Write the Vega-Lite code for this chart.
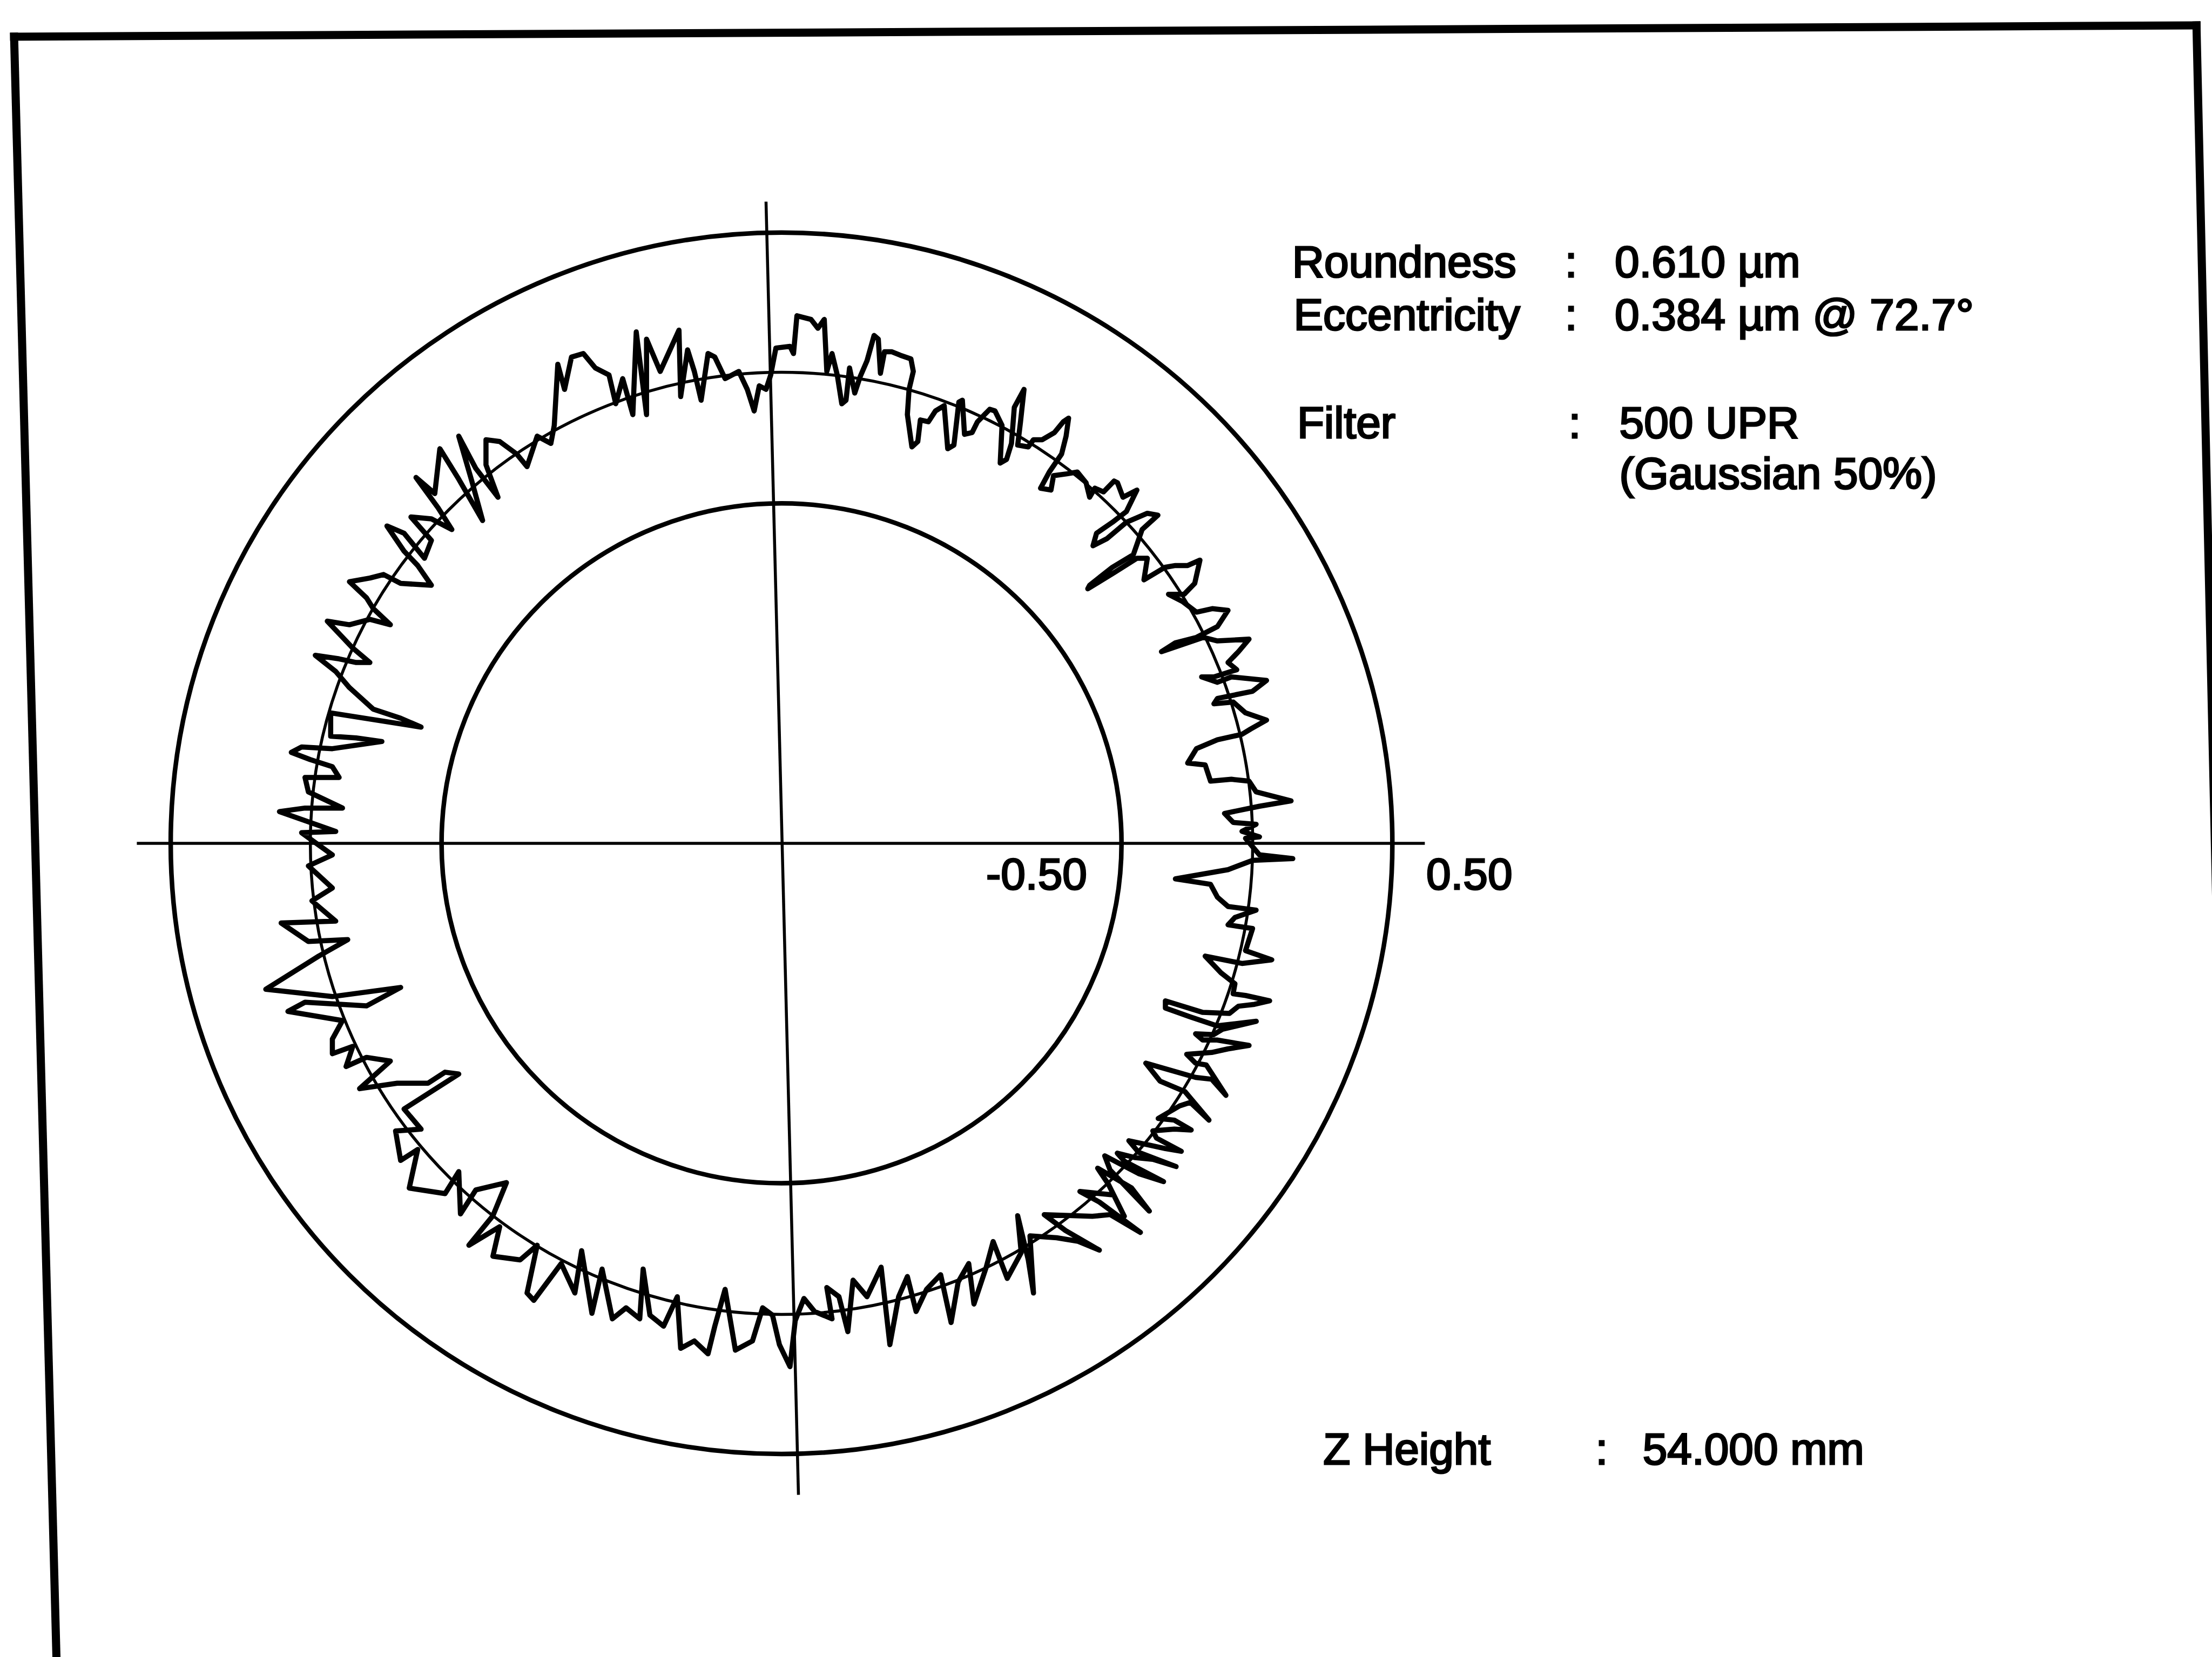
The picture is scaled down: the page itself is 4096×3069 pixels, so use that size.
{
  "$schema": "https://vega.github.io/schema/vega-lite/v6.json",
  "width": 4096,
  "height": 3069,
  "autosize": {"type": "fit", "contains": "padding"},
  "padding": 0,
  "background": "#ffffff",
  "config": {"view": {"stroke": null}},
  "datasets": {
    "frame": [
      {"x": -544, "y": 572, "x2": 1003, "y2": 580},
      {"x": -544, "y": 572, "x2": -514, "y2": -577},
      {"x": 1003, "y": 580, "x2": 1029, "y2": -577}
    ],
    "crosshair": [
      {"x": -457, "y": 0, "x2": 456, "y2": 0},
      {"x": -11, "y": 455, "x2": 12, "y2": -462}
    ],
    "grid": [
      {"x": 0, "y": 0, "r": 241, "level": "-0.50"},
      {"x": 0, "y": 0, "r": 433, "level": "0.50"}
    ],
    "reference": [
      {"x": 0, "y": 0, "r": 334}
    ],
    "labels": [
      {"x": 362, "y": 401.6, "text": "Roundness"},
      {"x": 555.3, "y": 401.6, "text": ":"},
      {"x": 590.6, "y": 401.6, "text": "0.610 µm"},
      {"x": 363, "y": 363.9, "text": "Eccentricity"},
      {"x": 555.3, "y": 363.9, "text": ":"},
      {"x": 590.6, "y": 363.9, "text": "0.384 µm @ 72.7°"},
      {"x": 365.5, "y": 287.5, "text": "Filter"},
      {"x": 557.9, "y": 287.5, "text": ":"},
      {"x": 593.9, "y": 287.5, "text": "500 UPR"},
      {"x": 593.9, "y": 251.7, "text": "(Gaussian 50%)"},
      {"x": 145, "y": -32.6, "text": "-0.50"},
      {"x": 457, "y": -32.6, "text": "0.50"},
      {"x": 384, "y": -440.3, "text": "Z Height"},
      {"x": 577, "y": -440.3, "text": ":"},
      {"x": 610.4, "y": -440.3, "text": "54.000 mm"}
    ],
    "profile": [
      {"i":0,"x":-7.7,"y":332.0},{"i":1,"x":-4.0,"y":351.2},{"i":2,"x":6.0,"y":352.4},{"i":3,"x":8.5,"y":347.3},{"i":4,"x":10.9,"y":374.1},{"i":5,"x":20.9,"y":371.5},{"i":6,"x":25.8,"y":365.2},{"i":7,"x":30.3,"y":371.5},{"i":8,"x":32.1,"y":334.6},{"i":9,"x":35.8,"y":347.3},
      {"i":10,"x":39.5,"y":332.1},{"i":11,"x":42.7,"y":311.7},{"i":12,"x":45.7,"y":314.2},{"i":13,"x":48.2,"y":337.1},{"i":14,"x":51.9,"y":319.3},{"i":15,"x":55.7,"y":330.8},{"i":16,"x":60.6,"y":342.2},{"i":17,"x":65.6,"y":360.1},{"i":18,"x":68.6,"y":357.5},{"i":19,"x":70.1,"y":333.3},
      {"i":20,"x":73.0,"y":348.6},{"i":21,"x":78.0,"y":348.6},{"i":22,"x":84.2,"y":346.1},{"i":23,"x":91.7,"y":343.5},{"i":24,"x":93.4,"y":334.6},{"i":25,"x":90.4,"y":321.9},{"i":26,"x":89.2,"y":304.0},{"i":27,"x":92.4,"y":281.1},{"i":28,"x":96.6,"y":284.9},{"i":29,"x":98.4,"y":300.2},
      {"i":30,"x":104.1,"y":298.9},{"i":31,"x":109.1,"y":306.6},{"i":32,"x":115.3,"y":310.4},{"i":33,"x":117.8,"y":279.8},{"i":34,"x":122.2,"y":282.4},{"i":35,"x":125.7,"y":312.9},{"i":36,"x":128.2,"y":314.2},{"i":37,"x":129.7,"y":290.0},{"i":38,"x":135.1,"y":291.3},{"i":39,"x":138.9,"y":298.9},
      {"i":40,"x":147.6,"y":307.8},{"i":41,"x":151.3,"y":306.6},{"i":42,"x":156.3,"y":296.4},{"i":43,"x":155.0,"y":269.6},{"i":44,"x":159.5,"y":272.2},{"i":45,"x":163.0,"y":283.6},{"i":46,"x":165.0,"y":309.1},{"i":47,"x":171.9,"y":321.9},{"i":48,"x":169.4,"y":298.9},{"i":49,"x":167.4,"y":282.4},
      {"i":50,"x":174.9,"y":281.1},{"i":51,"x":178.6,"y":286.2},{"i":52,"x":184.8,"y":286.2},{"i":53,"x":193.5,"y":291.3},{"i":54,"x":199.7,"y":298.9},{"i":55,"x":203.5,"y":301.5},{"i":56,"x":201.7,"y":288.7},{"i":57,"x":198.5,"y":276.0},{"i":58,"x":189.8,"y":263.3},{"i":59,"x":183.6,"y":251.8},
      {"i":60,"x":191.0,"y":250.5},{"i":61,"x":192.8,"y":260.7},{"i":62,"x":202.2,"y":262.0},{"i":63,"x":209.7,"y":263.3},{"i":64,"x":215.9,"y":255.6},{"i":65,"x":218.4,"y":245.4},{"i":66,"x":222.1,"y":251.8},{"i":67,"x":228.3,"y":249.2},{"i":68,"x":235.7,"y":256.9},{"i":69,"x":238.2,"y":255.6},
      {"i":70,"x":242.0,"y":245.4},{"i":71,"x":251.9,"y":250.5},{"i":72,"x":244.4,"y":235.2},{"i":73,"x":234.5,"y":227.6},{"i":74,"x":223.3,"y":219.9},{"i":75,"x":220.8,"y":211.0},{"i":76,"x":230.8,"y":216.1},{"i":77,"x":244.4,"y":227.6},{"i":78,"x":259.3,"y":234.0},{"i":79,"x":266.8,"y":232.7},
      {"i":80,"x":255.6,"y":222.5},{"i":81,"x":249.4,"y":204.7},{"i":82,"x":234.5,"y":195.7},{"i":83,"x":218.4,"y":183.0},{"i":84,"x":217.1,"y":180.5},{"i":85,"x":235.7,"y":191.9},{"i":86,"x":251.9,"y":202.1},{"i":87,"x":259.3,"y":202.1},{"i":88,"x":256.9,"y":186.8},{"i":89,"x":271.8,"y":195.7},
      {"i":90,"x":279.2,"y":197.0},{"i":91,"x":287.9,"y":197.0},{"i":92,"x":296.6,"y":200.8},{"i":93,"x":292.9,"y":184.3},{"i":94,"x":285.4,"y":176.6},{"i":95,"x":274.3,"y":176.6},{"i":96,"x":284.2,"y":171.5},{"i":97,"x":294.1,"y":163.9},{"i":98,"x":305.3,"y":166.4},{"i":99,"x":316.5,"y":165.2},
      {"i":100,"x":309.0,"y":153.7},{"i":101,"x":294.1,"y":146.0},{"i":102,"x":279.2,"y":142.2},{"i":103,"x":269.3,"y":135.9},{"i":104,"x":284.2,"y":141.0},{"i":105,"x":299.1,"y":146.0},{"i":106,"x":309.0,"y":143.5},{"i":107,"x":331.4,"y":144.8},{"i":108,"x":323.9,"y":135.9},{"i":109,"x":316.5,"y":128.2},
      {"i":110,"x":322.7,"y":123.1},{"i":111,"x":306.5,"y":118.0},{"i":112,"x":297.8,"y":118.0},{"i":113,"x":309.0,"y":114.2},{"i":114,"x":318.9,"y":118.0},{"i":115,"x":343.8,"y":115.5},{"i":116,"x":333.9,"y":107.8},{"i":117,"x":309.0,"y":102.7},{"i":118,"x":306.5,"y":98.9},{"i":119,"x":320.2,"y":100.2},
      {"i":120,"x":328.9,"y":92.5},{"i":121,"x":343.8,"y":87.4},{"i":122,"x":332.6,"y":81.1},{"i":123,"x":326.4,"y":77.3},{"i":124,"x":309.0,"y":73.4},{"i":125,"x":294.1,"y":67.1},{"i":126,"x":287.9,"y":56.9},{"i":127,"x":300.3,"y":55.6},{"i":128,"x":304.1,"y":44.1},{"i":129,"x":318.9,"y":45.4},
      {"i":130,"x":331.4,"y":44.1},{"i":131,"x":336.4,"y":36.5},{"i":132,"x":361.2,"y":30.1},{"i":133,"x":338.8,"y":26.3},{"i":134,"x":314.0,"y":21.2},{"i":135,"x":320.2,"y":14.8},{"i":136,"x":336.4,"y":13.5},{"i":137,"x":326.4,"y":8.5},{"i":138,"x":338.8,"y":4.6},{"i":139,"x":328.9,"y":3.5},
      {"i":140,"x":338.8,"y":-8.2},{"i":141,"x":362.4,"y":-10.8},{"i":142,"x":333.9,"y":-12.1},{"i":143,"x":316.5,"y":-18.7},{"i":144,"x":279.2,"y":-25.2},{"i":145,"x":304.1,"y":-29.1},{"i":146,"x":309.0,"y":-38.2},{"i":147,"x":316.5,"y":-44.8},{"i":148,"x":336.4,"y":-47.4},{"i":149,"x":321.4,"y":-52.6},
      {"i":150,"x":316.5,"y":-57.8},{"i":151,"x":333.9,"y":-60.4},{"i":152,"x":328.9,"y":-76.1},{"i":153,"x":347.5,"y":-82.6},{"i":154,"x":326.4,"y":-85.2},{"i":155,"x":300.3,"y":-80.0},{"i":156,"x":311.5,"y":-91.8},{"i":157,"x":321.4,"y":-99.6},{"i":158,"x":320.1,"y":-106.7},{"i":159,"x":328.9,"y":-107.9},
      {"i":160,"x":346.0,"y":-111.7},{"i":161,"x":335.2,"y":-114.2},{"i":162,"x":323.9,"y":-115.5},{"i":163,"x":317.5,"y":-120.6},{"i":164,"x":298.6,"y":-119.9},{"i":165,"x":272.1,"y":-111.7},{"i":166,"x":272.1,"y":-116.8},{"i":167,"x":289.8,"y":-123.1},{"i":168,"x":308.7,"y":-129.4},{"i":169,"x":336.5,"y":-126.2},
      {"i":170,"x":312.5,"y":-131.9},{"i":171,"x":306.2,"y":-135.7},{"i":172,"x":293.5,"y":-135.1},{"i":173,"x":298.6,"y":-139.5},{"i":174,"x":308.7,"y":-139.5},{"i":175,"x":331.4,"y":-143.3},{"i":176,"x":316.3,"y":-145.8},{"i":177,"x":304.9,"y":-148.3},{"i":178,"x":287.2,"y":-149.6},{"i":179,"x":293.5,"y":-155.9},
      {"i":180,"x":301.1,"y":-157.2},{"i":181,"x":315.0,"y":-178.7},{"i":182,"x":304.9,"y":-167.3},{"i":183,"x":293.5,"y":-166.0},{"i":184,"x":258.2,"y":-155.9},{"i":185,"x":268.3,"y":-168.6},{"i":186,"x":286.0,"y":-176.1},{"i":187,"x":303.0,"y":-196.3},{"i":188,"x":289.8,"y":-183.7},{"i":189,"x":282.2,"y":-186.2},
      {"i":190,"x":267.0,"y":-195.1},{"i":191,"x":278.4,"y":-196.3},{"i":192,"x":290.4,"y":-203.3},{"i":193,"x":278.4,"y":-202.7},{"i":194,"x":263.2,"y":-203.9},{"i":195,"x":265.8,"y":-209.0},{"i":196,"x":283.4,"y":-218.4},{"i":197,"x":272.1,"y":-216.5},{"i":198,"x":260.7,"y":-214.0},{"i":199,"x":246.2,"y":-210.9},
      {"i":200,"x":253.1,"y":-219.1},{"i":201,"x":279.7,"y":-229.2},{"i":202,"x":263.2,"y":-224.1},{"i":203,"x":250.6,"y":-222.9},{"i":204,"x":238.0,"y":-219.7},{"i":205,"x":243.0,"y":-225.4},{"i":206,"x":270.8,"y":-239.9},{"i":207,"x":253.1,"y":-234.2},{"i":208,"x":229.1,"y":-221.6},{"i":209,"x":232.9,"y":-231.7},
      {"i":210,"x":260.7,"y":-260.8},{"i":211,"x":248.1,"y":-244.3},{"i":212,"x":224.1,"y":-230.4},{"i":213,"x":231.7,"y":-241.8},{"i":214,"x":243.0,"y":-264.5},{"i":215,"x":235.5,"y":-249.4},{"i":216,"x":211.5,"y":-246.9},{"i":217,"x":225.3,"y":-254.4},{"i":218,"x":254.4,"y":-275.9},{"i":219,"x":233.0,"y":-263.3},
      {"i":220,"x":220.3,"y":-264.5},{"i":221,"x":186.2,"y":-263.3},{"i":222,"x":201.3,"y":-274.6},{"i":223,"x":225.3,"y":-288.5},{"i":224,"x":210.2,"y":-282.2},{"i":225,"x":195.0,"y":-279.7},{"i":226,"x":176.1,"y":-278.4},{"i":227,"x":178.6,"y":-318.9},{"i":228,"x":174.9,"y":-295.4},{"i":229,"x":167.4,"y":-264.1},
      {"i":230,"x":169.9,"y":-290.2},{"i":231,"x":160.0,"y":-308.5},{"i":232,"x":150.0,"y":-282.4},{"i":233,"x":145.1,"y":-300.6},{"i":234,"x":136.4,"y":-326.7},{"i":235,"x":132.7,"y":-298.0},{"i":236,"x":125.2,"y":-311.1},{"i":237,"x":120.2,"y":-339.8},{"i":238,"x":112.8,"y":-305.9},{"i":239,"x":102.8,"y":-316.3},
      {"i":240,"x":95.4,"y":-332.0},{"i":241,"x":89.2,"y":-307.2},{"i":242,"x":83.0,"y":-321.5},{"i":243,"x":76.8,"y":-355.5},{"i":244,"x":70.6,"y":-300.6},{"i":245,"x":60.6,"y":-321.5},{"i":246,"x":50.7,"y":-309.8},{"i":247,"x":47.0,"y":-346.3},{"i":248,"x":40.7,"y":-321.5},{"i":249,"x":32.1,"y":-315.0},
      {"i":250,"x":35.8,"y":-337.2},{"i":251,"x":23.4,"y":-332.0},{"i":252,"x":15.9,"y":-322.8},{"i":253,"x":9.7,"y":-338.5},{"i":254,"x":6.0,"y":-371.1},{"i":255,"x":-1.5,"y":-355.5},{"i":256,"x":-6.4,"y":-334.6},{"i":257,"x":-13.4,"y":-329.4},{"i":258,"x":-20.6,"y":-352.9},{"i":259,"x":-32.7,"y":-359.4},
      {"i":260,"x":-40.0,"y":-316.3},{"i":261,"x":-47.3,"y":-342.4},{"i":262,"x":-52.1,"y":-362.0},{"i":263,"x":-61.8,"y":-352.9},{"i":264,"x":-71.5,"y":-358.1},{"i":265,"x":-73.9,"y":-321.5},{"i":266,"x":-83.6,"y":-342.4},{"i":267,"x":-93.3,"y":-334.6},{"i":268,"x":-98.1,"y":-301.9},{"i":269,"x":-100.5,"y":-337.2},
      {"i":270,"x":-110.2,"y":-329.4},{"i":271,"x":-119.9,"y":-337.2},{"i":272,"x":-127.2,"y":-301.9},{"i":273,"x":-134.4,"y":-333.3},{"i":274,"x":-141.7,"y":-288.9},{"i":275,"x":-146.5,"y":-318.9},{"i":276,"x":-156.2,"y":-298.0},{"i":277,"x":-175.6,"y":-324.1},{"i":278,"x":-180.4,"y":-318.9},{"i":279,"x":-173.2,"y":-285.0},
      {"i":280,"x":-185.3,"y":-295.4},{"i":281,"x":-204.6,"y":-292.8},{"i":282,"x":-199.8,"y":-271.9},{"i":283,"x":-221.6,"y":-285.0},{"i":284,"x":-204.6,"y":-264.1},{"i":285,"x":-195.0,"y":-240.6},{"i":286,"x":-216.7,"y":-245.8},{"i":287,"x":-227.6,"y":-262.8},{"i":288,"x":-228.8,"y":-232.8},{"i":289,"x":-238.5,"y":-248.4},
      {"i":290,"x":-263.9,"y":-244.5},{"i":291,"x":-257.9,"y":-217.1},{"i":292,"x":-270.0,"y":-224.9},{"i":293,"x":-273.6,"y":-204.0},{"i":294,"x":-255.5,"y":-202.7},{"i":295,"x":-267.6,"y":-188.4},{"i":296,"x":-228.8,"y":-163.6},{"i":297,"x":-238.5,"y":-162.3},{"i":298,"x":-250.6,"y":-170.1},{"i":299,"x":-272.4,"y":-170.1},
      {"i":300,"x":-299.1,"y":-174.0},{"i":301,"x":-277.3,"y":-154.4},{"i":302,"x":-294.2,"y":-151.8},{"i":303,"x":-308.7,"y":-158.3},{"i":304,"x":-303.9,"y":-144.0},{"i":305,"x":-318.4,"y":-149.2},{"i":306,"x":-318.4,"y":-138.8},{"i":307,"x":-311.2,"y":-125.7},{"i":308,"x":-349.9,"y":-119.2},{"i":309,"x":-337.8,"y":-112.7},
      {"i":310,"x":-294.2,"y":-115.3},{"i":311,"x":-270.0,"y":-102.2},{"i":312,"x":-318.4,"y":-108.7},{"i":313,"x":-365.6,"y":-103.5},{"i":314,"x":-328.1,"y":-80.0},{"i":315,"x":-307.5,"y":-68.3},{"i":316,"x":-335.4,"y":-69.6},{"i":317,"x":-354.7,"y":-56.5},{"i":318,"x":-316.0,"y":-55.2},{"i":319,"x":-332.9,"y":-40.8},
      {"i":320,"x":-318.4,"y":-31.7},{"i":321,"x":-335.4,"y":-16.0},{"i":322,"x":-318.4,"y":-8.2},{"i":323,"x":-340.2,"y":7.5},{"i":324,"x":-316.0,"y":8.4},{"i":325,"x":-355.9,"y":22.5},{"i":326,"x":-337.8,"y":25.0},{"i":327,"x":-311.2,"y":25.0},{"i":328,"x":-335.4,"y":36.5},{"i":329,"x":-337.8,"y":46.7},
      {"i":330,"x":-313.6,"y":46.7},{"i":331,"x":-318.4,"y":54.3},{"i":332,"x":-334.2,"y":59.4},{"i":333,"x":-347.5,"y":64.5},{"i":334,"x":-340.2,"y":68.3},{"i":335,"x":-318.4,"y":67.1},{"i":336,"x":-283.3,"y":72.2},{"i":337,"x":-301.5,"y":74.7},{"i":338,"x":-319.6,"y":76.0},{"i":339,"x":-319.6,"y":92.5},
      {"i":340,"x":-255.5,"y":82.4},{"i":341,"x":-270.0,"y":88.7},{"i":342,"x":-289.4,"y":95.1},{"i":343,"x":-306.3,"y":110.4},{"i":344,"x":-316.0,"y":121.8},{"i":345,"x":-330.5,"y":133.3},{"i":346,"x":-313.6,"y":130.8},{"i":347,"x":-301.5,"y":128.2},{"i":348,"x":-291.8,"y":128.2},{"i":349,"x":-303.9,"y":138.4},
      {"i":350,"x":-311.2,"y":146.1},{"i":351,"x":-322.0,"y":157.5},{"i":352,"x":-306.3,"y":155.0},{"i":353,"x":-291.8,"y":158.8},{"i":354,"x":-277.3,"y":155.0},{"i":355,"x":-289.4,"y":166.4},{"i":356,"x":-294.2,"y":174.1},{"i":357,"x":-306.3,"y":185.5},{"i":358,"x":-291.8,"y":188.1},{"i":359,"x":-282.1,"y":190.6},
      {"i":360,"x":-270.0,"y":184.3},{"i":361,"x":-248.2,"y":183.0},{"i":362,"x":-257.9,"y":197.0},{"i":363,"x":-267.6,"y":207.2},{"i":364,"x":-279.7,"y":225.0},{"i":365,"x":-267.6,"y":219.9},{"i":366,"x":-253.1,"y":202.1},{"i":367,"x":-248.2,"y":214.8},{"i":368,"x":-262.7,"y":231.4},{"i":369,"x":-248.2,"y":230.1},
      {"i":370,"x":-233.7,"y":222.5},{"i":371,"x":-243.4,"y":237.8},{"i":372,"x":-259.1,"y":259.4},{"i":373,"x":-245.8,"y":248.0},{"i":374,"x":-242.2,"y":279.8},{"i":375,"x":-228.8,"y":258.2},{"i":376,"x":-211.9,"y":228.9},{"i":377,"x":-219.2,"y":255.6},{"i":378,"x":-228.8,"y":288.7},{"i":379,"x":-216.7,"y":265.8},
      {"i":380,"x":-201.0,"y":245.4},{"i":381,"x":-209.5,"y":268.4},{"i":382,"x":-209.5,"y":286.2},{"i":383,"x":-199.8,"y":284.9},{"i":384,"x":-187.7,"y":276.0},{"i":385,"x":-180.4,"y":267.1},{"i":386,"x":-173.2,"y":288.7},{"i":387,"x":-163.5,"y":283.6},{"i":388,"x":-161.1,"y":296.4},{"i":389,"x":-158.6,"y":339.7},
      {"i":390,"x":-153.8,"y":321.9},{"i":391,"x":-148.9,"y":344.8},{"i":392,"x":-140.5,"y":347.3},{"i":393,"x":-132.0,"y":337.1},{"i":394,"x":-122.3,"y":332.1},{"i":395,"x":-117.5,"y":311.7},{"i":396,"x":-112.6,"y":329.5},{"i":397,"x":-105.4,"y":304.0},{"i":398,"x":-103.0,"y":362.6},{"i":399,"x":-95.7,"y":304.0},
      {"i":400,"x":-95.7,"y":357.5},{"i":401,"x":-86.0,"y":334.6},{"i":402,"x":-72.7,"y":363.9},{"i":403,"x":-71.5,"y":316.8},{"i":404,"x":-66.6,"y":349.9},{"i":405,"x":-61.8,"y":334.6},{"i":406,"x":-57.0,"y":314.2},{"i":407,"x":-52.1,"y":347.3},{"i":408,"x":-47.3,"y":344.8},{"i":409,"x":-40.0,"y":329.5},
      {"i":410,"x":-30.3,"y":334.6},{"i":411,"x":-24.3,"y":321.9},{"i":412,"x":-19.4,"y":306.6},{"i":413,"x":-15.8,"y":324.4},{"i":414,"x":-11.0,"y":321.9},{"i":415,"x":-7.7,"y":332.0}
    ]
  },
  "encoding": {
    "x": {"field": "x", "type": "quantitative", "scale": {"domain": [-554, 1014], "nice": false, "zero": false}, "axis": null},
    "y": {"field": "y", "type": "quantitative", "scale": {"domain": [-577, 598], "nice": false, "zero": false}, "axis": null}
  },
  "layer": [
    {
      "data": {"name": "frame"},
      "mark": {"type": "rule", "color": "#000000", "strokeWidth": 15, "strokeCap": "square", "clip": true},
      "encoding": {"x2": {"field": "x2"}, "y2": {"field": "y2"}}
    },
    {
      "data": {"name": "crosshair"},
      "mark": {"type": "rule", "color": "#000000", "strokeWidth": 5.5},
      "encoding": {"x2": {"field": "x2"}, "y2": {"field": "y2"}}
    },
    {
      "data": {"name": "grid"},
      "mark": {"type": "point", "shape": "circle", "filled": false, "color": "#000000", "strokeWidth": 8.5, "opacity": 1},
      "encoding": {
        "size": {"field": "r", "type": "quantitative", "scale": {"type": "pow", "exponent": 2, "domain": [0, 500], "range": [0, 6823824]}, "legend": null}
      }
    },
    {
      "data": {"name": "reference"},
      "mark": {"type": "point", "shape": "circle", "filled": false, "color": "#000000", "strokeWidth": 5.5, "opacity": 1},
      "encoding": {
        "size": {"field": "r", "type": "quantitative", "scale": {"type": "pow", "exponent": 2, "domain": [0, 500], "range": [0, 6823824]}, "legend": null}
      }
    },
    {
      "data": {"name": "profile"},
      "mark": {"type": "line", "color": "#000000", "strokeWidth": 9.5, "strokeJoin": "round", "strokeCap": "round"},
      "encoding": {"order": {"field": "i", "type": "quantitative"}}
    },
    {
      "data": {"name": "labels"},
      "mark": {"type": "text", "font": "Liberation Sans", "fontSize": 82, "align": "left", "baseline": "alphabetic", "color": "#000000", "stroke": "#000000", "strokeWidth": 3},
      "encoding": {"text": {"field": "text", "type": "nominal"}}
    }
  ]
}
